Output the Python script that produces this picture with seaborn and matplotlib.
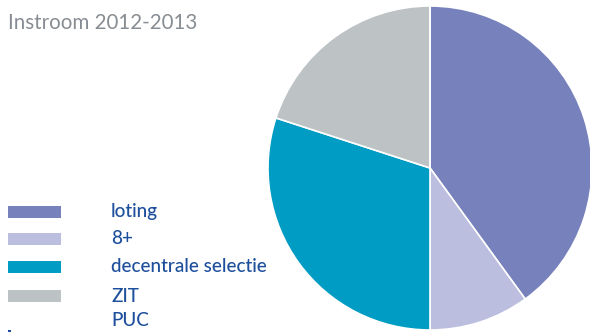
import matplotlib
matplotlib.use("Agg")
import matplotlib.pyplot as plt
from matplotlib.patches import Rectangle
import seaborn as sns

# Intake 2012-2013 by admission route (percentages)
categories = ["loting", "8+", "decentrale selectie", "ZIT", "PUC"]
shares = [40, 10, 30, 20, 0]
colors = ["#7782bd", "#bcbedf", "#009cc4", "#bdc2c5", "#1d4f9c"]
title = "Instroom 2012-2013"

sns.set_theme(style="white")
plt.rcParams["font.family"] = ["Lato", "DejaVu Sans"]

W, H = 590, 332
fig = plt.figure(figsize=(W / 100, H / 100), dpi=100)
ax = fig.add_axes([0, 0, 1, 1])

ax.pie(shares, colors=colors, startangle=90, counterclock=False,
       center=(430, H - 168), radius=162, frame=True,
       wedgeprops=dict(edgecolor="white", linewidth=1.2))
ax.set_xlim(0, W)
ax.set_ylim(0, H)
ax.set_aspect("equal")
ax.axis("off")

fig.text(8 / W, 1 - 23 / H, title, fontsize=14.8, color="#878d93",
         va="center", ha="left")

# legend swatches and labels
row_y = [212, 239, 267, 296, 321]
for i, (name, col) in enumerate(zip(categories, colors)):
    y = H - row_y[i]
    if name == "PUC":
        ax.add_patch(Rectangle((8, 0), 3, 2, color=col, lw=0))
    else:
        ax.add_patch(Rectangle((8, y - 6), 53, 12, color=col, lw=0))
    ax.text(111, y, name, fontsize=13.6, color="#1d4f9c", va="center",
            ha="left", fontweight="medium")

fig.savefig("out.png", dpi=100)
